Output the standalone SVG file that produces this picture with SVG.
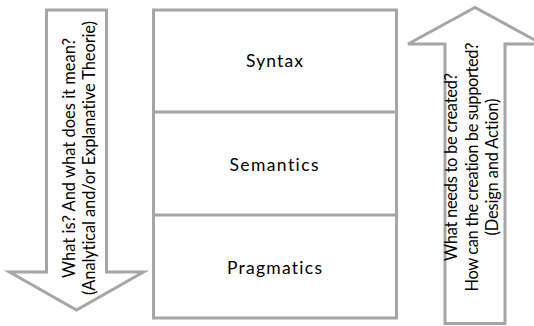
<svg xmlns="http://www.w3.org/2000/svg" width="534" height="326" viewBox="0 0 534 326">
  <style>
    .outline { fill: #ffffff; stroke: #a6a6a6; stroke-width: 3; stroke-linejoin: miter; }
    text { font-family: Lato, "Open Sans", "Liberation Sans", sans-serif; fill: #000000; text-anchor: middle; font-variant-ligatures: none; }
    .layer { font-size: 17.5px; }
    .side { font-size: 16.5px; }
  </style>

  <!-- downward arrow: analysis / explanation -->
  <g id="arrow-down">
    <path class="outline" d="M46.5,10 L106.5,10 L106.5,272 L143.5,272 L76.5,310 L9.5,272 L46.5,272 Z"/>
    <g transform="translate(0,158) rotate(-90)">
      <text class="side" x="0" y="75" textLength="240" lengthAdjust="spacing">What is? And what does it mean?</text>
      <text class="side" x="0" y="95" textLength="274" lengthAdjust="spacing">(Analytical and/or Explanative Theorie)</text>
    </g>
  </g>

  <!-- layered stack -->
  <g id="stack">
    <rect class="outline" x="153.5" y="10" width="243" height="308"/>
    <line class="outline" x1="153.5" y1="112" x2="396.5" y2="112"/>
    <line class="outline" x1="153.5" y1="215" x2="396.5" y2="215"/>
  </g>
  <g id="syntax">
    <text class="layer" x="274.5" y="67" textLength="57" lengthAdjust="spacing">Syntax</text>
  </g>
  <g id="semantics">
    <text class="layer" x="274" y="171" textLength="89" lengthAdjust="spacing">Semantics</text>
  </g>
  <g id="pragmatics">
    <text class="layer" x="274.5" y="274" textLength="95" lengthAdjust="spacing">Pragmatics</text>
  </g>

  <!-- upward arrow: design / action -->
  <g id="arrow-up">
    <path class="outline" d="M445,323.5 L505,323.5 L505,44 L542,44 L475,7.5 L408,44 L445,44 Z"/>
    <g transform="translate(0,167) rotate(-90)">
      <text class="side" x="0" y="457" textLength="188" lengthAdjust="spacing">What needs to be created?</text>
      <text class="side" x="0" y="478" textLength="249" lengthAdjust="spacing">How can the creation be supported?</text>
      <text class="side" x="0" y="498" textLength="137" lengthAdjust="spacing">(Design and Action)</text>
    </g>
  </g>
</svg>
